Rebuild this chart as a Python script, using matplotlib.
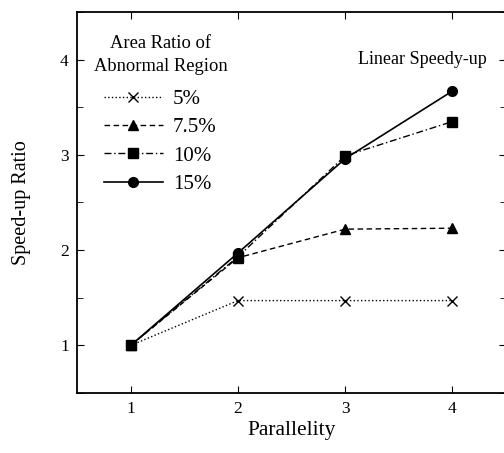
import matplotlib
matplotlib.use("Agg")
import matplotlib.pyplot as plt
from matplotlib.ticker import MultipleLocator

# Data
parallelity = [1, 2, 3, 4]
ratio_5 = [1.0, 1.47, 1.47, 1.47]
ratio_7_5 = [1.0, 1.92, 2.22, 2.23]
ratio_10 = [1.0, 1.93, 2.99, 3.35]
ratio_15 = [1.0, 1.97, 2.96, 3.67]
labels = ["5%", "7.5%", "10%", "15%"]

plt.rcParams["font.family"] = ["Liberation Serif", "DejaVu Serif"]
plt.rcParams["font.size"] = 12.5

# Init plot
fig = plt.figure(figsize=(5.04, 4.53), dpi=100)
ax = fig.add_axes([0.153, 0.1325, 0.851, 0.841])

# Add data
ax.plot(parallelity, ratio_5, color="black", linestyle=":", linewidth=1,
        marker="x", markersize=7, label=labels[0])
ax.plot(parallelity, ratio_7_5, color="black", linestyle=(0, (4, 2.5)), linewidth=1,
        marker="^", markersize=7, label=labels[1])
ax.plot(parallelity, ratio_10, color="black", linestyle=(0, (5, 2, 1, 2)), linewidth=1,
        marker="s", markersize=6.5, label=labels[2])
ax.plot(parallelity, ratio_15, color="black", linestyle="-", linewidth=1.2,
        marker="o", markersize=7, label=labels[3])

# Formatting
ax.set_xlim(0.5, 4.5)
ax.set_ylim(0.5, 4.5)
ax.set_xticks(parallelity)
ax.yaxis.set_major_locator(MultipleLocator(1))
ax.yaxis.set_minor_locator(MultipleLocator(0.5))
ax.tick_params(which="both", direction="in", top=True, right=True, labelsize=12.5)
ax.tick_params(which="major", length=5)
ax.tick_params(which="minor", length=4)
ax.tick_params(axis="y", pad=6)
ax.tick_params(axis="x", pad=6)
for s in ax.spines.values():
    s.set_linewidth(1.3)

ax.set_xlabel("Parallelity", fontsize=15.5, labelpad=3)
ax.set_ylabel("Speed-up Ratio", fontsize=14.5, labelpad=21)

ax.text(4.32, 4.0, "Linear Speedy-up", ha="right", va="center", fontsize=13)

leg = ax.legend(title="Area Ratio of\nAbnormal Region", frameon=False,
                loc="upper left", bbox_to_anchor=(-0.005, 0.99),
                handlelength=2.8, handletextpad=0.5, labelspacing=0.42,
                fontsize=15, title_fontsize=13.3)
leg.get_title().set_multialignment("center")
leg.get_title().set_linespacing(1.5)
# a little extra room between the title and the entries
leg._legend_box.sep = 0.42 * 15 + 4

fig.savefig("out.png", dpi=100)
